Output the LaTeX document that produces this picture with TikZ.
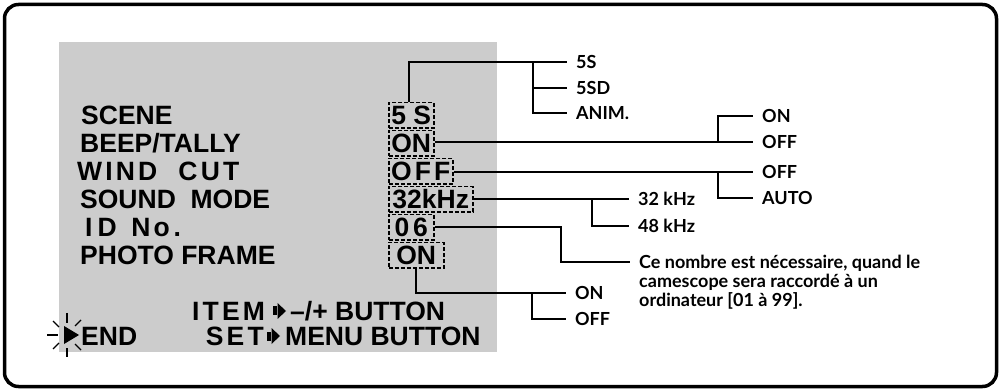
\documentclass[tikz,border=0pt]{standalone}
\usepackage{fontspec}
\newfontfamily\menufont{Liberation Sans}
\newfontfamily\menuwide{Liberation Sans}[LetterSpace=12]
\newfontfamily\labfont{Lato}
\definecolor{panelgray}{HTML}{CCCCCC}
\begin{document}
\begin{tikzpicture}[x=1pt,y=-1pt,
  menu/.style={font=\menufont\bfseries\fontsize{26.5}{30}\selectfont, anchor=base west, inner sep=0pt},
  menuw/.style={font=\menuwide\bfseries\fontsize{26.5}{30}\selectfont, anchor=base west, inner sep=0pt},
  valbox/.style={draw, line width=1.5pt, dash pattern=on 4pt off 2pt, anchor=base west,
    inner xsep=0pt, inner ysep=0pt, text height=22.5pt, text depth=3pt,
    font=\menufont\bfseries\fontsize{26.5}{30}\selectfont},
  lab/.style={font=\labfont\bfseries\fontsize{18}{20}\selectfont, anchor=west,
    inner xsep=9pt, inner ysep=0pt, text height=13pt, text depth=0pt},
  conn/.style={line width=2.4pt},
  spark/.style={line width=1.1pt}]
\useasboundingbox (0,0) rectangle (1002,390);
% frame and panel
\draw[line width=3.5pt, rounded corners=14pt] (4.5,4.5) rectangle (996.5,386.5);
\fill[panelgray] (59,42) rectangle (497,352);
% menu items
\node[menu]  (m1) at (81,125) {SCENE};
\node[menu]  (m2) at (80,153) {BEEP/TALLY};
\node[menuw] (m3) at (77,181) {WIND\ \ CUT};
\node[menu]  (m4) at (80,209) {SOUND\ \ MODE};
\node[menu]  (m5) at (85,237) {I\kern5pt D\ \ N\kern3pt o\kern4pt .};
\node[menu]  (m6) at (80,265) {PHOTO FRAME};
% values
\node[valbox, minimum width=45pt] (v1) at (388,125) {5 S};
\node[valbox, minimum width=45pt] (v2) at (388,153) {ON};
\node[valbox, minimum width=64pt, font=\menuwide\bfseries\fontsize{26.5}{30}\selectfont] (v3) at (388,181) {OFF};
\node[valbox, minimum width=84pt] (v4) at (388,209) {32kHz};
\node[valbox, minimum width=45pt] (v5) at (388,237) {0\kern4pt 6};
\node[valbox, minimum width=55pt] (v6) at (388,265) {ON};
% option labels
\node[lab] (l1) at (567,62)  {5S};
\node[lab] (l2) at (567,88)  {5SD};
\node[lab] (l3) at (567,113) {ANIM.};
\node[lab] (l4) at (753,116) {ON};
\node[lab] (l5) at (753,142) {OFF};
\node[lab] (l6) at (753,172) {OFF};
\node[lab] (l7) at (753,198) {AUTO};
\node[lab] (l8) at (629,199) {32 kHz};
\node[lab] (l9) at (629,226) {48 kHz};
\node[lab] (p1) at (630,262) {Ce nombre est nécessaire, quand le};
\node[lab] (p2) at (630,281) {camescope sera raccordé à un};
\node[lab] (p3) at (630,300) {ordinateur [01 à 99].};
\node[lab] (l10) at (566,293) {ON};
\node[lab] (l11) at (566,319) {OFF};
% junctions
\coordinate (j1) at (533,62);
\coordinate (j2) at (718,142);
\coordinate (j3) at (718,172);
\coordinate (j4) at (592,199);
\coordinate (j5) at (561,262);
\coordinate (j6) at (532,293);
% connectors
\draw[conn] ([xshift=-2.5pt]v1.north) |- (l1.west);
\draw[conn] (j1) |- (l3.west);
\draw[conn] (j1 |- l2.west) -- (l2.west);
\draw[conn] (v2.east |- l5.west) -- (l5.west);
\draw[conn] (j2) |- (l4.west);
\draw[conn] (v3.east |- l6.west) -- (l6.west);
\draw[conn] (j3) |- (l7.west);
\draw[conn] (v4.east |- l8.west) -- (l8.west);
\draw[conn] (j4) |- (l9.west);
\draw[conn] (v5.east) -| (j5) -- (p1.west);
\draw[conn] (v6.south) |- (l10.west);
\draw[conn] (j6) |- (l11.west);
% bottom lines
\node[menuw] (item) at (192,320) {ITEM};
\fill (273,306.5) rectangle (276.5,315.5);
\fill (277.5,303) -- (277.5,319) -- (286,311) -- cycle;
\node[menu] (btn1) at (290,320) {–/+ BUTTON};
\node[menuw, anchor=base east] (set) at (264,345) {SET};
\fill (267,331.5) rectangle (270.5,340.5);
\fill (271.5,328) -- (271.5,344) -- (280,336) -- cycle;
\node[menu] (btn2) at (285,345) {MENU BUTTON};
\node[menu] (end) at (81,345) {END};
% blinking cursor
\fill (64,326) -- (64,344) -- (79,335) -- cycle;
\draw[spark] (47,335) -- (58,335);
\draw[spark] (67,313) -- (67,323);
\draw[spark] (67,348) -- (67,357);
\draw[spark] (53,321) -- (59,327);
\draw[spark] (53,349) -- (59,343);
\draw[spark] (75,326) -- (81,320);
\draw[spark] (75,344) -- (81,350);
\end{tikzpicture}
\end{document}
